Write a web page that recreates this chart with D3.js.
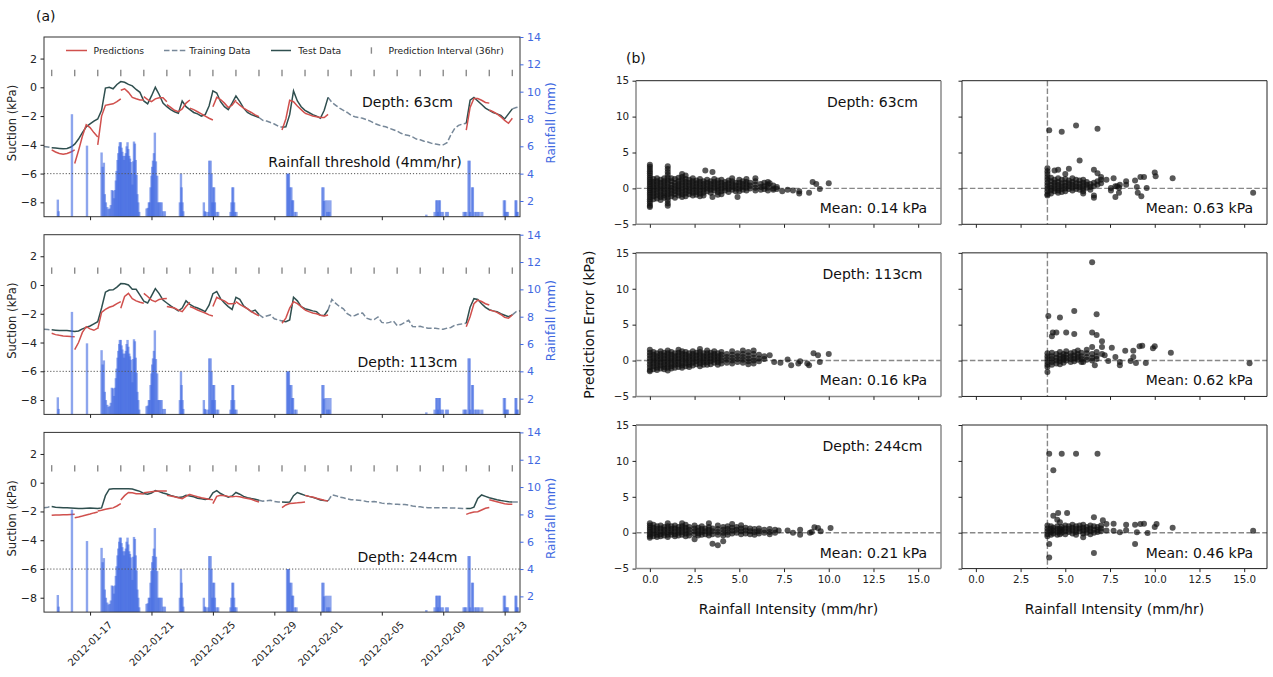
<!DOCTYPE html>
<html><head><meta charset="utf-8">
<script src="https://cdn.jsdelivr.net/npm/d3@7/dist/d3.min.js"></script>
<style>html,body{margin:0;padding:0;background:#fff;} svg{display:block;font-family:"DejaVu Sans",sans-serif;}</style>
</head><body>
<svg id="chart" width="1273" height="677"></svg>
<script>
// ================= DATA =================
const dateTickLabels = ["2012-01-17","2012-01-21","2012-01-25","2012-01-29","2012-02-01","2012-02-05","2012-02-09","2012-02-13"];
const suctionTicks = [-8,-6,-4,-2,0,2];
const rainTicks = [2,4,6,8,10,12,14];
const errTicks = [-5,0,5,10,15];
const intensityTicks = [0,2.5,5,7.5,10,12.5,15];
const depthLabels = ["Depth: 63cm","Depth: 113cm","Depth: 244cm"];
const meanAll = ["Mean: 0.14 kPa","Mean: 0.16 kPa","Mean: 0.21 kPa"];
const meanHigh = ["Mean: 0.63 kPa","Mean: 0.62 kPa","Mean: 0.46 kPa"];
const legendLabels = ["Predictions","Training Data","Test Data","Prediction Interval (36hr)"];

// observed suction (kPa), one value every 6 hours from 2012-01-14 00:00
const obs63 = [-4.12,-4.15,-4.2,-4.22,-4.25,-4.28,-4.25,-4.15,-3.95,-3.6,
-3.15,-2.75,-2.55,-2.35,-2.2,-1.6,-0.05,0.0,-0.1,0.2,
0.4,0.35,0.2,0.1,-0.15,-0.35,-0.95,-1.15,-0.6,0.0,
-0.5,-1.1,-1.35,-1.55,-1.7,-1.8,-0.95,-1.35,-1.55,-1.75,
-1.85,-2.0,-1.9,-1.3,-0.25,-0.4,-1.0,-1.35,-1.55,-1.1,
-0.6,-1.0,-1.45,-1.75,-1.9,-2.0,-2.1,-2.3,-2.35,-2.45,
-2.55,-2.7,-2.78,-2.75,-1.9,-0.25,-0.95,-1.35,-1.6,-1.75,
-1.9,-2.0,-2.15,-1.6,-0.7,-1.05,-1.25,-1.45,-1.6,-1.75,
-1.95,-2.05,-2.1,-2.15,-2.25,-2.35,-2.5,-2.6,-2.7,-2.75,
-2.85,-2.95,-3.05,-3.2,-3.3,-3.35,-3.45,-3.6,-3.65,-3.75,
-3.8,-3.9,-3.95,-4.0,-4.0,-3.85,-3.3,-2.85,-2.65,-2.55,
-2.5,-0.9,-0.7,-0.95,-1.2,-1.45,-1.6,-1.75,-1.85,-1.95,
-2.2,-1.85,-1.5,-1.4,-1.35];
const obs113 = [-3.08,-3.1,-3.12,-3.14,-3.16,-3.17,-3.17,-3.2,-3.24,-3.2,
-3.05,-2.95,-2.85,-2.7,-2.55,-1.6,-0.5,-0.35,-0.33,-0.15,
0.1,0.08,0.0,-0.3,-0.3,-0.7,-1.12,-1.25,-0.75,-0.25,
-0.6,-1.05,-1.25,-1.45,-1.62,-1.8,-1.6,-1.1,-1.35,-1.5,
-1.6,-1.72,-1.85,-1.4,-0.6,-0.45,-0.95,-1.25,-1.5,-1.7,
-0.85,-1.0,-1.45,-1.65,-1.85,-1.74,-2.05,-2.25,-2.15,-2.08,
-2.35,-2.43,-2.5,-2.55,-2.43,-0.85,-1.1,-1.5,-1.65,-1.72,
-1.8,-1.85,-2.1,-2.12,-1.74,-1.0,-1.28,-1.5,-1.65,-2.0,
-2.15,-2.12,-2.0,-1.95,-2.3,-2.4,-2.4,-2.22,-2.6,-2.66,
-2.6,-2.5,-2.82,-2.75,-2.6,-2.45,-2.88,-2.9,-2.87,-2.95,
-3.0,-3.0,-3.0,-3.05,-3.08,-3.0,-2.95,-2.8,-2.75,-2.7,
-2.66,-1.55,-0.95,-1.0,-1.3,-1.55,-1.72,-1.8,-1.85,-2.0,
-2.1,-2.2,-2.08,-1.85,-1.8];
const obs244 = [-1.74,-1.7,-1.65,-1.7,-1.72,-1.74,-1.74,-1.76,-1.78,-1.8,
-1.8,-1.78,-1.76,-1.78,-1.8,-1.75,-0.9,-0.45,-0.42,-0.42,
-0.42,-0.42,-0.42,-0.44,-0.52,-0.6,-0.75,-0.8,-0.72,-0.55,
-0.62,-0.72,-0.78,-0.88,-0.96,-1.02,-1.0,-0.88,-0.92,-0.98,
-1.08,-1.12,-1.16,-1.12,-0.7,-0.55,-0.75,-0.88,-1.0,-0.92,
-0.68,-0.8,-0.95,-1.04,-1.1,-1.15,-1.22,-1.28,-1.25,-1.22,
-1.3,-1.34,-1.34,-1.36,-1.35,-0.9,-0.68,-0.78,-0.88,-0.95,
-1.02,-1.1,-1.2,-1.24,-1.26,-0.85,-0.9,-1.0,-1.05,-1.12,
-1.18,-1.2,-1.22,-1.25,-1.3,-1.34,-1.3,-1.35,-1.42,-1.46,
-1.45,-1.5,-1.5,-1.52,-1.52,-1.55,-1.62,-1.65,-1.68,-1.72,
-1.74,-1.74,-1.75,-1.74,-1.74,-1.75,-1.76,-1.76,-1.78,-1.8,
-1.8,-1.8,-1.7,-1.1,-0.85,-0.95,-1.05,-1.11,-1.18,-1.24,
-1.28,-1.32,-1.34,-1.34,-1.34];

// hours since start: test windows / training windows
const testWindows = [[12,336],[372,444],[660,732]];
const trainWindows = [[0,12],[336,372],[444,660],[732,744]];
// 36-hour prediction windows (start hour), each prediction value every 6 hours
const predStarts = [12,48,84,120,156,192,228,264,300,372,408,660,696];
const pred63 = [
[-4.35,-4.5,-4.6,-4.65,-4.6,-4.5,-4.35],
[-5.3,-4.4,-3.4,-2.6,-2.8,-3.15,-3.45],
[-4.0,-2.0,-1.25,-1.2,-1.15,-1.0,-0.8],
[-0.2,-0.1,-0.35,-0.7,-0.8,-0.88,-0.88],
[-0.65,-0.85,-1.0,-0.8,-0.72,-0.72,-1.0],
[-1.2,-1.4,-1.6,-1.7,-1.5,-1.1,-0.88],
[-1.45,-1.55,-1.7,-1.85,-2.0,-2.15,-2.27],
[-1.35,-0.7,-0.85,-1.1,-1.4,-1.25,-0.88],
[-1.0,-1.25,-1.45,-1.6,-1.75,-1.92,-2.04],
[-2.97,-2.2,-0.9,-1.0,-1.3,-1.55,-1.8],
[-1.8,-1.9,-2.0,-2.05,-2.1,-2.1,-1.88],
[-2.97,-1.4,-0.78,-0.78,-0.9,-1.05,-1.1],
[-1.58,-1.7,-1.85,-2.05,-2.3,-2.5,-2.15]];
const pred113 = [
[-3.36,-3.45,-3.5,-3.54,-3.56,-3.58,-3.59],
[-4.5,-4.0,-3.3,-2.9,-3.05,-3.15,-3.0],
[-3.05,-1.9,-1.7,-1.55,-1.46,-1.3,-1.16],
[-1.62,-0.8,-0.58,-0.95,-1.1,-1.2,-1.27],
[-0.58,-0.8,-1.05,-1.16,-1.0,-0.95,-0.93],
[-1.5,-1.55,-1.6,-1.75,-1.85,-1.5,-1.2],
[-1.5,-1.6,-1.74,-1.85,-1.95,-2.08,-2.15],
[-1.5,-0.85,-1.0,-1.1,-1.3,-1.3,-1.27],
[-1.16,-1.35,-1.5,-1.65,-1.85,-2.0,-2.15],
[-2.66,-2.3,-1.6,-1.16,-1.3,-1.5,-1.74],
[-1.74,-1.85,-1.95,-2.0,-2.1,-2.15,-2.08],
[-2.9,-2.2,-1.3,-1.05,-1.15,-1.3,-1.39],
[-1.74,-1.8,-1.9,-2.05,-2.25,-2.31,-2.08]];
const pred244 = [
[-2.27,-2.25,-2.24,-2.23,-2.22,-2.21,-2.2],
[-2.43,-2.38,-2.32,-2.25,-2.18,-2.1,-2.04],
[-1.97,-1.92,-1.85,-1.8,-1.75,-1.62,-1.46],
[-1.2,-0.9,-0.68,-0.7,-0.76,-0.76,-0.78],
[-0.7,-0.66,-0.62,-0.6,-0.58,-0.58,-0.58],
[-0.88,-0.92,-0.98,-1.05,-1.11,-0.95,-0.8],
[-0.82,-0.9,-0.98,-1.05,-1.1,-1.15,-1.18],
[-1.46,-0.95,-0.88,-0.9,-0.95,-0.98,-0.95],
[-0.95,-0.98,-1.05,-1.1,-1.15,-1.25,-1.34],
[-1.74,-1.55,-1.45,-1.42,-1.4,-1.37,-1.34],
[-0.88,-0.95,-1.0,-1.08,-1.15,-1.22,-1.28],
[-2.2,-2.1,-2.04,-2.02,-1.9,-1.78,-1.72],
[-1.18,-1.25,-1.32,-1.4,-1.47,-1.5,-1.5]];
// prediction interval boundaries (hours since start)
const intervalHours = [12,48,84,120,156,192,228,264,300,336,372,408,444,480,516,552,588,624,660,696,732];

// rainfall: day offset since 2012-01-14, amount (mm)
const rainDay = [0.90,0.95,1.82,2.80,3.75,3.82,3.90,3.96,4.03,4.12,4.2,4.28,4.35,4.42,4.5,4.56,
4.62,4.68,4.73,4.79,4.84,4.9,4.94,5.0,5.05,5.1,5.16,5.22,5.27,5.33,5.38,5.44,5.49,5.55,5.6,5.65,5.7,5.76,5.81,5.86,5.92,5.97,6.03,6.08,6.14,6.2,
6.68,6.76,6.83,6.88,6.94,7.0,7.05,7.1,7.16,7.22,7.29,7.37,7.43,7.5,7.58,7.66,7.76,7.87,
8.85,8.92,8.96,9.02,9.07,
10.41,10.48,10.55,10.7,10.76,10.85,10.91,10.97,11.02,11.08,11.13,11.23,11.34,
12.15,12.21,12.27,12.32,12.38,12.43,12.53,
15.83,15.9,15.95,16.03,16.11,16.17,16.22,16.33,16.44,
18.13,18.2,18.24,18.35,18.45,18.5,18.58,18.65,
24.9,25.44,25.55,25.61,25.66,25.72,25.78,25.87,25.98,26.19,26.3,
27.33,27.42,27.5,27.65,27.72,27.76,27.88,27.93,28.04,28.15,28.25,28.37,28.54,
29.95,30.02,30.06,30.13,30.21,30.71,30.76,30.79,30.85];
const rainMM = [2.1,1.25,8.35,6.05,5.55,4.5,4.8,2.5,1.9,1.55,1.4,1.45,1.7,2.8,2.75,2.2,
2.8,3.5,4.2,5.0,5.5,6.0,6.3,6.3,5.9,5.6,5.3,5.0,5.3,5.5,6.0,6.3,5.8,5.3,5.1,4.85,4.0,3.2,4.9,6.35,6.2,5.0,3.9,2.5,1.9,1.2,
1.45,1.5,1.9,1.9,3.0,3.85,4.5,4.95,5.5,7.0,4.9,3.85,1.9,1.9,1.9,1.9,1.25,1.25,
1.9,4.0,3.0,1.9,1.25,
1.9,1.25,1.2,1.2,4.95,4.95,4.0,1.9,3.0,3.0,1.9,1.2,1.2,
1.2,1.9,3.0,3.0,1.9,1.2,1.2,
4.0,4.0,4.0,3.0,3.0,2.05,2.05,1.2,1.2,
3.0,3.0,2.0,2.05,1.2,2.05,1.2,2.05,
1.0,1.2,2.05,2.05,1.2,2.05,2.05,1.2,1.2,1.2,1.2,
1.2,1.2,1.2,4.95,4.95,1.2,3.0,3.0,1.2,1.2,1.2,1.2,1.2,
2.05,2.05,1.2,1.2,1.2,2.05,2.05,1.2,1.2];

// prediction error scatter: [rainfall intensity, [errors...]]
const err63all = [[0,[3.3,3.0,2.7,2.4,2.1,1.8,1.5,1.2,0.9,0.6,0.3,0,-0.3,-0.6,-0.9,-1.2,-1.5,-1.8,-2.1,-2.4,-2.6]],
[0.2,[1.3,0.9,0.5,0.1,-0.3,-0.7,-1.1,-1.5]],[0.4,[1.4,1.0,0.6,0.2,-0.2,-0.6,-1.0,-1.4]],
[0.6,[1.2,0.8,0.4,0.0,-0.4,-0.8,-1.2,-1.6]],[0.8,[1.4,1.0,0.6,0.2,-0.2,-0.6,-1.0,-1.3]],
[1.0,[3.1,2.7,2.3,1.9,1.5,1.1,0.7,0.3,-0.1,-0.5,-0.9,-1.3,-1.7,-2.1,-2.4]],
[1.2,[1.4,1.0,0.5,0.1,-0.3,-0.7,-1.1]],[1.4,[1.3,0.8,0.4,0.0,-0.4,-0.8,-1.3]],
[1.6,[1.5,1.0,0.6,0.2,-0.2,-0.6,-1.0]],[1.8,[2.0,1.6,1.2,0.8,0.4,0.0,-0.4,-0.8,-1.2]],
[2.0,[1.8,1.3,0.9,0.5,0.1,-0.3,-0.7,-1.1]],[2.2,[1.2,0.8,0.4,0.0,-0.4,-0.8]],
[2.4,[1.4,1.0,0.6,0.2,-0.2,-0.6,-1.0]],[2.6,[1.1,0.7,0.3,-0.1,-0.5,-0.9]],
[2.8,[1.3,0.9,0.5,0.1,-0.3,-0.7,-1.1]],[3.0,[1.0,0.6,0.2,-0.2,-0.6,-1.0]],[3.1,[2.5]],
[3.2,[1.2,0.8,0.4,0.0,-0.4]],[3.4,[1.0,0.6,0.2,-0.2,-0.6]],[3.5,[2.3,-1.2]],
[3.6,[1.3,0.9,0.5,0.1,-0.3]],[3.8,[1.1,0.7,0.3,-0.1,-0.5,-0.9]],[4.0,[1.2,0.8,0.4,0.0,-0.4,-0.8]],
[4.2,[0.9,0.5,0.1,-0.3]],[4.4,[1.1,0.7,0.3,-0.1,-0.5]],[4.6,[1.4,1.0,0.6,0.2,-0.2]],
[4.8,[0.8,0.4,0.0,-0.4]],[4.9,[-1.2]],[5.0,[1.2,0.8,0.4,0.0,-0.4]],[5.2,[1.0,0.6,0.2,-0.2]],
[5.4,[1.3,0.9,0.5,0.1,-0.3]],[5.6,[0.8,0.4,0.0]],[5.9,[1.4,1.0,0.5,0.1,-0.3]],
[6.2,[0.6,0.2,-0.2]],[6.4,[0.8,0.3,-0.1]],[6.6,[0.9,0.5,0.1,-0.3]],[6.7,[0.7]],
[6.9,[0.4,0.0,-0.2]],[7.1,[0.2,-0.1]],[7.4,[-0.4]],[7.7,[-0.2]],[8.0,[-0.3]],
[8.35,[-0.4,-0.7]],[8.9,[-0.6]],[9.1,[0.9]],[9.3,[0.6]],[9.5,[-0.1]],[10.0,[0.7]]];
const err63high = [[4.0,[2.8,2.4,2.0,1.6,1.2,0.8,0.4,0.0,-0.4,-0.8,-1.0]],[4.1,[8.1]],
[4.2,[1.5,1.0,0.5,0.1,-0.3,-0.7]],[4.4,[2.5,1.2,0.8,0.4,0.0,-0.4]],[4.6,[2.6,1.4,0.9,0.5,0.1,-0.3,-0.6]],
[4.8,[7.9,1.2,0.7,0.3,-0.1,-0.5]],[5.0,[2.0,1.3,0.8,0.4,0.0,-0.4]],[5.2,[2.75,1.1,0.7,0.3,-0.1]],
[5.4,[1.4,0.9,0.5,0.1,-0.3]],[5.6,[8.75,1.2,0.7,0.3,-0.1]],[5.8,[3.9,1.1,0.6,0.2,-0.2]],
[6.0,[1.2,0.8,0.4,0.0,-0.4,-0.7]],[6.2,[0.9,0.5,0.1]],[6.4,[0.6,0.2,-0.2]],
[6.6,[2.6,0.8,0.3,-1.0,-1.3]],[6.8,[8.3,2.1,1.0,0.5]],[7.0,[1.6,1.2,0.7]],[7.3,[1.2]],
[7.55,[0.05,-0.3]],[7.7,[1.4]],[7.8,[-1.2,0.3]],[7.9,[0.3]],[8.0,[-0.6,0.1]],[8.05,[0.5]],
[8.4,[1.0,0.5]],[8.9,[1.1]],[9.0,[0.2]],[9.05,[-0.6]],[9.2,[1.6]],[9.25,[-1.1]],[9.4,[1.6]],
[9.55,[0.05]],[10.0,[2.2]],[10.05,[1.7]],[11.0,[1.4]],[15.5,[-0.6]]];
const err113all = [[0,[1.5,1.1,0.7,0.3,-0.1,-0.5,-0.9,-1.3,-1.5]],[0.2,[1.2,0.8,0.4,0.0,-0.4,-0.8,-1.2]],
[0.4,[1.0,0.6,0.2,-0.2,-0.6,-1.0,-1.3]],[0.6,[1.3,0.9,0.5,0.1,-0.3,-0.7,-1.1]],
[0.8,[1.1,0.7,0.3,-0.1,-0.5,-0.9,-1.2]],[1.0,[1.4,1.0,0.6,0.2,-0.2,-0.6,-1.0,-1.4]],
[1.2,[1.2,0.8,0.4,0.0,-0.4,-0.8,-1.1]],[1.4,[1.0,0.6,0.2,-0.2,-0.6,-1.0]],
[1.6,[1.5,1.1,0.7,0.3,-0.1,-0.5,-0.9]],[1.8,[1.3,0.9,0.5,0.1,-0.3,-0.7,-1.0]],
[2.0,[1.2,0.8,0.4,0.0,-0.4,-0.8]],[2.2,[1.0,0.6,0.2,-0.2,-0.6,-0.9]],[2.4,[1.3,0.9,0.5,0.1,-0.3,-0.7]],
[2.6,[1.1,0.7,0.3,-0.1,-0.5]],[2.8,[1.6,1.2,0.8,0.4,0.0,-0.4,-0.8]],[3.0,[1.0,0.6,0.2,-0.2,-0.6]],
[3.2,[1.4,1.0,0.6,0.2,-0.2,-0.6]],[3.4,[1.1,0.7,0.3,-0.1,-0.5]],[3.6,[1.3,0.9,0.5,0.1,-0.3]],
[3.8,[1.0,0.6,0.2,-0.2,-0.6]],[4.0,[1.2,0.8,0.4,0.0,-0.4]],[4.3,[0.9,0.5,0.1,-0.3]],
[4.6,[1.3,0.8,0.4,0.0,-0.4]],[4.9,[1.0,0.6,0.2,-0.2]],[5.2,[1.4,0.9,0.5,0.1,-0.3]],
[5.5,[1.2,0.7,0.3,-0.1,-0.5]],[5.8,[1.4,0.9,0.4,0.0,-0.4]],[6.1,[0.8,0.3,-0.1]],[6.4,[0.6,0.2]],
[6.7,[0.75]],[6.95,[-0.2]],[7.3,[-0.3]],[7.7,[0.15]],[7.9,[-0.65]],[8.3,[-0.4]],[8.4,[-0.1]],
[8.8,[-0.4]],[8.9,[-0.65]],[9.15,[1.0]],[9.4,[0.75]],[9.5,[-0.2]],[10.0,[0.9]]];
const err113high = [[4.0,[1.0,0.6,0.2,-0.2,-0.6,-0.9,-1.6]],[4.05,[6.2]],[4.25,[3.4,1.1,0.6,0.2,-0.2,-0.6]],
[4.3,[3.9]],[4.5,[3.9,0.9,0.4,0.0,-0.4]],[4.7,[6.0,1.2,0.7,0.3,-0.1,-0.5]],[4.9,[0.9,0.5,0.1,-0.3]],
[5.05,[3.9,1.3,0.8,0.4,0.0]],[5.3,[1.0,0.6,0.2,-0.2]],[5.5,[6.9,3.7,1.2,0.7,0.3,-0.1]],
[5.7,[1.4,0.9,0.5,0.1]],[5.9,[1.1,0.6,0.2,-0.2]],[6.0,[-0.2]],[6.2,[1.5,1.0,0.5,0.1]],
[6.5,[13.7,3.9,1.9,0.9,0.4,0.0]],[6.65,[-0.65]],[6.75,[6.45,3.55,1.2,0.6,0.2]],[7.05,[2.7,1.9,0.9]],
[7.2,[0.75]],[7.4,[-0.05]],[7.6,[1.8]],[7.8,[0.5]],[8.05,[-0.2,-0.65]],[8.35,[1.35]],[8.65,[-0.05]],
[8.8,[1.35,0.5]],[8.95,[-0.33]],[9.15,[2.0]],[9.3,[2.05]],[9.5,[-0.33]],[9.9,[1.7]],[10.0,[2.0]],
[10.9,[1.1]],[15.3,[-0.37]]];
const err244all = [[0,[1.3,1.0,0.7,0.4,0.1,-0.2,-0.5,-0.7]],[0.2,[1.1,0.7,0.3,-0.1,-0.5]],
[0.4,[0.9,0.5,0.1,-0.3,-0.6]],[0.6,[1.0,0.6,0.2,-0.2,-0.5]],[0.8,[0.8,0.4,0.0,-0.4]],
[1.0,[1.3,0.9,0.5,0.1,-0.3,-0.6]],[1.2,[0.9,0.5,0.1,-0.3]],[1.4,[1.0,0.6,0.2,-0.2,-0.5]],
[1.6,[0.8,0.4,0.0,-0.4]],[1.8,[1.3,0.9,0.5,0.1,-0.3]],[2.0,[1.1,0.7,0.3,-0.1,-0.5]],
[2.2,[0.8,0.4,0.0,-0.4]],[2.5,[1.0,0.6,0.2,-0.2,-0.9]],[2.7,[0.7,0.3,-0.1,-0.4]],
[2.9,[0.9,0.5,0.1,-0.3]],[3.1,[0.6,0.2,-0.2]],[3.3,[1.3,0.8,0.4,0.0,-0.4]],[3.5,[0.6,0.2,-0.2,-1.55]],
[3.8,[1.0,0.5,0.1,-0.3,-1.75]],[4.1,[0.8,0.4,0.0,-0.4,-1.2]],[4.35,[0.9,0.5,0.1,-0.3]],
[4.6,[1.2,0.7,0.3,-0.1]],[4.85,[0.8,0.4,0.0]],[5.1,[1.05,0.6,0.2,-0.2]],[5.35,[0.7,0.3,-0.1]],
[5.6,[0.6,0.2,-0.2]],[5.85,[0.5,0.1,-0.3]],[6.1,[0.6,0.2,-0.1]],[6.4,[0.4,0.0]],[6.7,[0.5,0.1,-0.2]],
[7.0,[0.4,0.0]],[7.2,[0.3]],[7.7,[0.3]],[8.0,[0.0]],[8.4,[0.4,-0.3]],[8.95,[0.0]],[9.05,[0.1]],
[9.2,[0.75]],[9.4,[0.65]],[9.55,[0.2]],[10.1,[0.65]]];
const err244high = [[4.0,[1.0,0.6,0.2,-0.2,-0.5]],[4.1,[11.0,-1.58,-3.44]],[4.2,[0.9,0.5,0.1,-0.3]],
[4.33,[8.7,2.37,0.7,0.3,-0.1]],[4.55,[1.8,0.9,0.5,0.1,-0.3]],[4.6,[2.74]],[4.7,[1.45,0.6,0.2,-0.2]],
[4.8,[11.0,0.8,0.4,0.0]],[5.0,[1.0,0.6,0.2,-0.2]],[5.1,[2.74]],[5.2,[0.9,0.5,0.1]],
[5.4,[1.1,0.7,0.3,-0.1]],[5.6,[11.0,0.9,0.5,0.1,-0.3]],[5.8,[1.0,0.6,0.2]],[6.0,[1.1,0.7,0.3,-0.1,-0.65]],
[6.2,[0.8,0.4,0.0]],[6.4,[1.0,0.6,0.2,-0.2]],[6.6,[2.14,0.9,0.4,0.0,-2.84]],[6.8,[11.0,0.8,0.4,0.1]],
[7.0,[1.0,0.6,0.2]],[7.1,[1.72]],[7.3,[1.2,0.3]],[7.7,[1.25,0.28]],[8.05,[0.05]],[8.4,[1.1,0.33]],
[8.9,[1.1,-1.58]],[9.0,[0.05]],[9.2,[1.2]],[9.4,[1.25]],[9.6,[-0.05]],[10.0,[0.8]],[10.1,[1.2]],
[11.0,[0.7]],[15.5,[0.28]]];
const rainThreshold = 4;

// ================= DRAWING =================
const svg = d3.select("#chart");
const FONT = "DejaVu Sans";
const C_PRED = "#d0504d", C_TEST = "#2f4f4f", C_TRAIN = "#778899", C_RAIN = "#4169e1";
const T0 = Date.UTC(2012,0,14);
const hDate = h => new Date(T0 + h*3600e3);
const x = d3.scaleUtc().domain([hDate(0), hDate(744)]).range([44,520]);
const dateTicks = dateTickLabels.map(s => new Date(s+"T00:00:00Z"));
const PH = 179.7;
const panelTops = [37, 234.7, 432.4];
const obsList = [obs63, obs113, obs244];
const predList = [pred63, pred113, pred244];

function styleAxis(g, size, color) {
  g.attr("font-size", null).attr("font-family", null);
  g.select(".domain").remove();
  g.selectAll(".tick line").attr("stroke", color);
  g.selectAll(".tick text").attr("fill", color).style("font-size", size+"px").style("font-family", FONT);
}

panelTops.forEach((top, p) => {
  const g = svg.append("g");
  const yL = d3.scaleLinear().domain([-9,3.5]).range([top+PH, top]);
  const yR = d3.scaleLinear().domain([0.85,14]).range([top+PH, top]);
  const clipId = "clip"+p;
  svg.append("clipPath").attr("id", clipId).append("rect")
     .attr("x",44).attr("y",top).attr("width",476).attr("height",PH);
  const obs = obsList[p];
  const line = d3.line().x(d => x(hDate(d[0]))).y(d => yL(d[1]));
  const seg = (h0,h1) => d3.range(h0/6, h1/6+1).map(i => [i*6, obs[i]]);
  const pl = g.append("g").attr("clip-path", `url(#${clipId})`);
  trainWindows.forEach(w => pl.append("path").attr("d", line(seg(w[0],w[1])))
     .attr("fill","none").attr("stroke",C_TRAIN).attr("stroke-width",1.5).attr("stroke-dasharray","5.5,2.4"));
  testWindows.forEach(w => pl.append("path").attr("d", line(seg(w[0],w[1])))
     .attr("fill","none").attr("stroke",C_TEST).attr("stroke-width",1.5));
  predList[p].forEach((vals, k) => pl.append("path")
     .attr("d", line(vals.map((v,i) => [predStarts[k]+i*6, v])))
     .attr("fill","none").attr("stroke",C_PRED).attr("stroke-width",1.5));
  // rainfall bars
  const bars = g.append("g").attr("clip-path", `url(#${clipId})`);
  bars.selectAll("rect").data(rainDay.map((d,i)=>[d,rainMM[i]])).join("rect")
     .attr("x", d => x(hDate(d[0]*24)) - 1.2).attr("width", 2.4)
     .attr("y", d => yR(d[1])).attr("height", d => yR(0) - yR(d[1]))
     .attr("fill", C_RAIN).attr("fill-opacity", 0.6);
  // threshold
  g.append("line").attr("x1",44).attr("x2",520).attr("y1",yR(rainThreshold)).attr("y2",yR(rainThreshold))
     .attr("stroke","#555").attr("stroke-width",1).attr("stroke-dasharray","1.2,1.9");
  // interval ticks
  g.selectAll(".iv").data(intervalHours).join("line")
     .attr("x1", h => x(hDate(h))).attr("x2", h => x(hDate(h)))
     .attr("y1", yL(1)-3.2).attr("y2", yL(1)+3.2)
     .attr("stroke","#8a8a8a").attr("stroke-width",1.4);
  // frame
  g.append("rect").attr("x",44).attr("y",top).attr("width",476).attr("height",PH)
     .attr("fill","none").attr("stroke","#333").attr("stroke-width",1);
  // axes
  const ax = g.append("g").attr("transform",`translate(44,0)`)
     .call(d3.axisLeft(yL).tickValues(suctionTicks).tickSize(3.5).tickPadding(3.5).tickFormat(d3.format("d")));
  styleAxis(ax, 11, "#222");
  const ar = g.append("g").attr("transform",`translate(520,0)`)
     .call(d3.axisRight(yR).tickValues(rainTicks).tickSize(3.5).tickPadding(3.5));
  styleAxis(ar, 11, C_RAIN);
  const axb = g.append("g").attr("transform",`translate(0,${top+PH})`)
     .call(d3.axisBottom(x).tickValues(dateTicks).tickSize(3.5).tickFormat(""));
  styleAxis(axb, 10, "#222");
  if (p === 2) {
    g.selectAll(".dl").data(dateTicks).join("text")
      .attr("transform", (d,i) => `translate(${x(d)},${top+PH+31.5}) rotate(-45)`)
      .attr("text-anchor","middle").attr("dominant-baseline","central")
      .style("font-family",FONT).style("font-size","10px").attr("fill","#222")
      .text((d,i) => dateTickLabels[i]);
  }
  // labels
  g.append("text").attr("transform",`translate(11.7,${top+86}) rotate(-90)`)
    .attr("text-anchor","middle").attr("dominant-baseline","central")
    .style("font-family",FONT).style("font-size","11.6px").attr("fill","#222").text("Suction (kPa)");
  g.append("text").attr("transform",`translate(550.7,${top+86}) rotate(-90)`)
    .attr("text-anchor","middle").attr("dominant-baseline","central")
    .style("font-family",FONT).style("font-size","12px").attr("fill",C_RAIN).text("Rainfall (mm)");
  const depthY = [65.3, 127, 124.3][p];
  g.append("text").attr("x",407.5).attr("y",top+depthY).attr("text-anchor","middle").attr("dominant-baseline","central")
    .style("font-family",FONT).style("font-size","14px").attr("fill","#111").text(depthLabels[p]);
  if (p === 0) {
    g.append("text").attr("x",365).attr("y",top+125.3).attr("text-anchor","middle").attr("dominant-baseline","central")
      .style("font-family",FONT).style("font-size","14px").attr("fill","#111").text("Rainfall threshold (4mm/hr)");
    // legend
    const ly = 50.5;
    const lg = g.append("g");
    lg.append("line").attr("x1",66).attr("x2",87).attr("y1",ly).attr("y2",ly).attr("stroke",C_PRED).attr("stroke-width",1.5);
    lg.append("line").attr("x1",164).attr("x2",186).attr("y1",ly).attr("y2",ly).attr("stroke",C_TRAIN).attr("stroke-width",1.5).attr("stroke-dasharray","5.5,2.4");
    lg.append("line").attr("x1",271).attr("x2",291).attr("y1",ly).attr("y2",ly).attr("stroke",C_TEST).attr("stroke-width",1.5);
    lg.append("line").attr("x1",371.4).attr("x2",371.4).attr("y1",ly-3.2).attr("y2",ly+3.2).attr("stroke","#8a8a8a").attr("stroke-width",1.4);
    [93.6,189.3,298.2,388.6].forEach((lx,i) => lg.append("text").attr("x",lx).attr("y",ly).attr("dominant-baseline","central")
      .style("font-family",FONT).style("font-size","9.2px").attr("fill","#222").text(legendLabels[i]));
  }
});
svg.append("text").attr("x",36).attr("y",21).style("font-family",FONT).style("font-size","14px").attr("fill","#111").text("(a)");
svg.append("text").attr("x",626).attr("y",63).style("font-family",FONT).style("font-size","14px").attr("fill","#111").text("(b)");

// ---- scatter panels ----
const colX = [636, 962], rowY = [80.7, 252.85, 425], SW = 305, SH = 143.6;
const scatterSets = [[err63all, err63high],[err113all, err113high],[err244all, err244high]];
rowY.forEach((ry, r) => {
  colX.forEach((cx, c) => {
    const g = svg.append("g");
    const xs = d3.scaleLinear().domain([-0.775,16.275]).range([cx, cx+SW]);
    const ys = d3.scaleLinear().domain([-5,15]).range([ry+SH, ry]);
    g.append("line").attr("x1",cx).attr("x2",cx+SW).attr("y1",ys(0)).attr("y2",ys(0))
      .attr("stroke","#888").attr("stroke-width",1.4).attr("stroke-dasharray","5.5,2.4");
    if (c === 1) g.append("line").attr("x1",xs(rainThreshold)).attr("x2",xs(rainThreshold)).attr("y1",ry).attr("y2",ry+SH)
      .attr("stroke","#888").attr("stroke-width",1.4).attr("stroke-dasharray","5.5,2.4");
    const pts = scatterSets[r][c].flatMap(([xv, yvals]) => yvals.map(yv => [xv, yv]));
    g.selectAll("circle").data(pts).join("circle")
      .attr("cx", d => xs(d[0])).attr("cy", d => ys(d[1])).attr("r", 3)
      .attr("fill", "#111").attr("fill-opacity", 0.7);
    // frame
    const grayEdge = c === 0 ? "#8a8a8a" : "#222";
    g.append("line").attr("x1",cx).attr("x2",cx+SW).attr("y1",ry).attr("y2",ry).attr("stroke","#222");
    g.append("line").attr("x1",cx).attr("x2",cx+SW).attr("y1",ry+SH).attr("y2",ry+SH).attr("stroke",grayEdge).attr("stroke-width",c===0?1.5:1);
    g.append("line").attr("x1",cx).attr("x2",cx).attr("y1",ry).attr("y2",ry+SH).attr("stroke",grayEdge).attr("stroke-width",c===0?1.5:1);
    g.append("line").attr("x1",cx+SW).attr("x2",cx+SW).attr("y1",ry).attr("y2",ry+SH).attr("stroke",grayEdge).attr("stroke-width",c===0?1.5:1);
    const axl = g.append("g").attr("transform",`translate(${cx},0)`)
      .call(d3.axisLeft(ys).tickValues(errTicks).tickSize(3.5).tickPadding(3.5).tickFormat(c===0 ? d3.format("d") : ""));
    styleAxis(axl, 10.3, "#222");
    const axx = g.append("g").attr("transform",`translate(0,${ry+SH})`)
      .call(d3.axisBottom(xs).tickValues(intensityTicks).tickSize(3.5).tickPadding(3.5).tickFormat(r===2 ? d3.format(".1f") : ""));
    styleAxis(axx, 10.3, "#222");
    if (c === 0) g.append("text").attr("x",cx+236.5).attr("y",ry+21).attr("text-anchor","middle").attr("dominant-baseline","central")
      .style("font-family",FONT).style("font-size","14px").attr("fill","#111").text(depthLabels[r]);
    g.append("text").attr("x",xs(15.5)).attr("y",ry+127.5).attr("text-anchor","end").attr("dominant-baseline","central")
      .style("font-family",FONT).style("font-size","14px").attr("fill","#111").text(c===0 ? meanAll[r] : meanHigh[r]);
    if (r === 2) g.append("text").attr("x",cx+SW/2).attr("y",614).attr("text-anchor","middle")
      .style("font-family",FONT).style("font-size","14px").attr("fill","#111").text("Rainfall Intensity (mm/hr)");
  });
});
svg.append("text").attr("transform",`translate(589,${rowY[1]+SH/2}) rotate(-90)`)
  .attr("text-anchor","middle").attr("dominant-baseline","central")
  .style("font-family",FONT).style("font-size","14px").attr("fill","#111").text("Prediction Error (kPa)");
</script>
</body></html>
